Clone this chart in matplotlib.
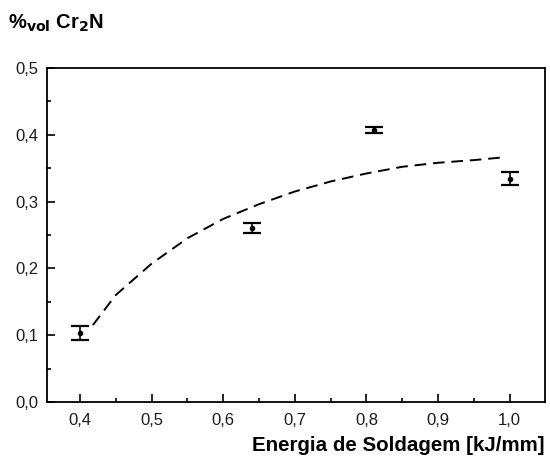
import matplotlib
matplotlib.use('Agg')
import matplotlib.pyplot as plt
from matplotlib.ticker import FuncFormatter, MultipleLocator

plt.rcParams['font.family'] = ['Liberation Sans', 'DejaVu Sans']

# measured points
energia = [0.40, 0.64, 0.81, 1.00]
cr2n = [0.103, 0.260, 0.407, 0.334]
erro = [0.010, 0.0075, 0.005, 0.010]

# fitted trend (dashed)
fit_x = [0.418, 0.45, 0.50, 0.55, 0.60, 0.65, 0.70, 0.75, 0.80, 0.85, 0.90, 0.95, 0.99]
fit_y = [0.115, 0.160, 0.207, 0.245, 0.274, 0.296, 0.315, 0.330, 0.342, 0.352, 0.358, 0.362, 0.366]

fig = plt.figure(figsize=(5.5, 4.62), dpi=100)
ax = fig.add_axes([0.0855, 0.13, 0.905, 0.723])

ax.plot(fit_x, fit_y, color='black', linestyle=(0, (6, 3.5)), linewidth=1.4)
ax.errorbar(energia, cr2n, yerr=erro, fmt='o', color='black', markersize=3,
            elinewidth=1.2, capsize=6.5, capthick=1.6)

ax.set_xlim(0.354, 1.049)
ax.set_ylim(0, 0.5)
ax.xaxis.set_major_locator(MultipleLocator(0.1))
ax.xaxis.set_minor_locator(MultipleLocator(0.05))
ax.yaxis.set_major_locator(MultipleLocator(0.1))
ax.yaxis.set_minor_locator(MultipleLocator(0.05))
fmt = FuncFormatter(lambda v, p: ('%.1f' % v).replace('.', ','))
ax.xaxis.set_major_formatter(fmt)
ax.yaxis.set_major_formatter(fmt)
ax.tick_params(which='both', direction='in', labelsize=12, width=1.2, labelcolor='#1a1a2a')
ax.tick_params(which='major', length=6)
ax.tick_params(which='minor', length=3)
ax.tick_params(axis='x', pad=8)
ax.tick_params(axis='y', pad=6)
for s in ax.spines.values():
    s.set_linewidth(1.3)

fig.text(0.015, 0.95, r'%$_{\mathbf{vol}}$ Cr$_{\mathbf{2}}$N', fontsize=14.5, fontweight='bold',
         va='center', ha='left')
fig.text(0.99, 0.035, 'Energia de Soldagem [kJ/mm]', fontsize=14.8, fontweight='bold',
         ha='right', va='center')

fig.savefig('out.png', dpi=100)
